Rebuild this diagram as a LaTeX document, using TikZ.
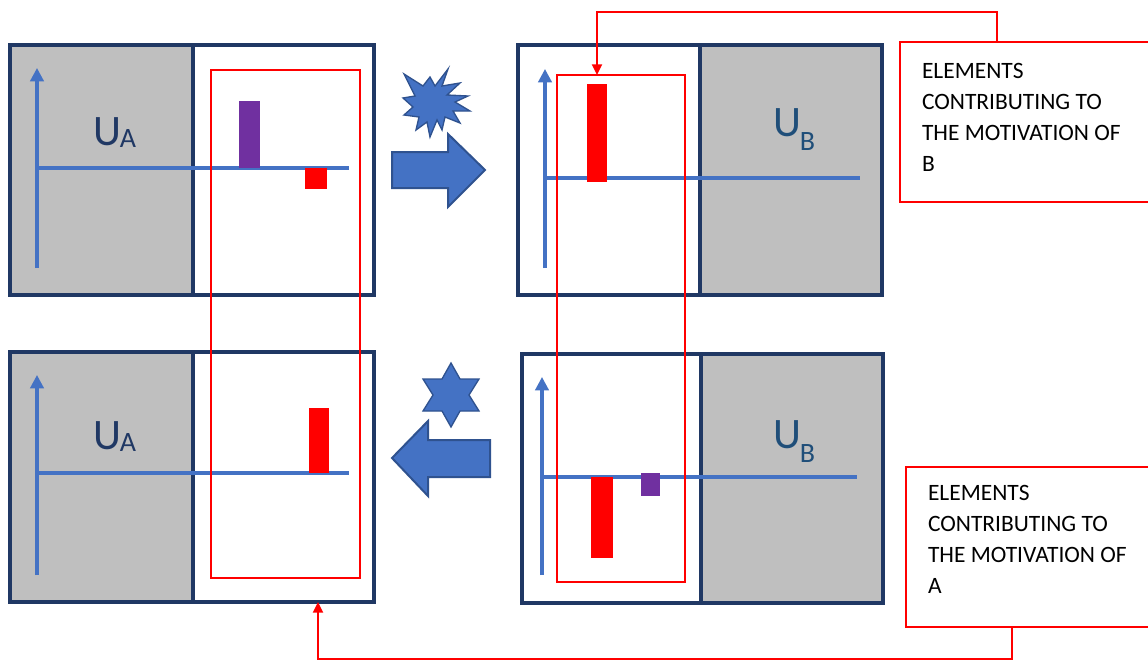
\documentclass[tikz,border=0pt]{standalone}
\usepackage{fontspec}
\setmainfont{Carlito}
\usetikzlibrary{arrows.meta,fit}
\definecolor{navy}{HTML}{203864}
\definecolor{boxgray}{HTML}{BFBFBF}
\definecolor{axisblue}{HTML}{4472C4}
\definecolor{shapeedge}{HTML}{2F528F}
\definecolor{barpurple}{HTML}{7030A0}
\definecolor{ulabA}{HTML}{203864}
\definecolor{ulabB}{HTML}{1F4E79}
\newcommand{\subA}[1]{\kern-1pt\raisebox{-2pt}{\fontsize{21}{21}\selectfont #1}}
\newcommand{\subB}[1]{\kern-1pt\raisebox{-10.5pt}{\fontsize{21}{21}\selectfont #1}}
\begin{document}
\begin{tikzpicture}[x=0.75pt,y=-0.75pt,
  panelgray/.style={draw=navy, line width=3pt, fill=boxgray, inner sep=0pt, outer sep=0pt},
  panelwhite/.style={draw=navy, line width=2.4pt, fill=white, inner sep=0pt, outer sep=0pt},
  axisline/.style={draw=axisblue, line width=2.3pt},
  axistip/.style={-{Triangle[width=10pt,length=10pt]}},
  redframe/.style={draw=red, line width=1.5pt, inner sep=0pt, outer sep=0pt},
  redbar/.style={fill=red, inner sep=0pt, outer sep=0pt},
  purplebar/.style={fill=barpurple, inner sep=0pt, outer sep=0pt},
  notebox/.style={draw=red, line width=1.5pt, fill=white, inner sep=0pt, outer sep=0pt},
  notetext/.style={inner sep=0pt, outer sep=0pt, align=left, text=black, font=\fontsize{17.6}{23.3}\selectfont},
  link/.style={draw=red, line width=1.5pt, -{Triangle[width=7.5pt,length=8pt]}},
  ulabel/.style={inner sep=0pt, anchor=base west, font=\fontsize{32.6}{32.6}\selectfont},
  blockshape/.style={fill=axisblue, draw=shapeedge, line width=1.5pt, line join=miter}
]
\useasboundingbox (0,0) rectangle (1148,660);
\clip (0,0) rectangle (1148,660);

% ---------- top-left panel ----------
\node[panelgray, fit={(10,45) (193,295)}] (gTL) {};
\node[panelwhite, fit={(193,45) (374,295)}] (wTL) {};
\coordinate (oTL) at (37,168);
\coordinate (yTL) at (37,68);
\coordinate (bTL) at (37,268);
\coordinate (xTL) at (349,168);
\draw[axisline, axistip] (bTL) -- (yTL);
\draw[axisline] (oTL) -- (xTL);
\node[purplebar, fit={(239,101) (260,168)}] (pTL) {};
\node[redbar, fit={(305,168) (327,189)}] (rTL) {};
\node[ulabel, text=ulabA] (uTL) at (93,145) {U\subA{A}};

% ---------- top-right panel ----------
\node[panelgray, fit={(700,45) (882,295)}] (gTR) {};
\node[panelwhite, fit={(518,45) (700,295)}] (wTR) {};
\draw[navy, line width=3pt] (gTR.north west) -- (gTR.south west);
\coordinate (oTR) at (545,178);
\coordinate (yTR) at (545,69);
\coordinate (bTR) at (545,268);
\coordinate (xTR) at (860,178);
\draw[axisline, axistip] (bTR) -- (yTR);
\draw[axisline] (oTR) -- (xTR);
\node[redbar, fit={(587,84) (607,182)}] (rTR) {};
\node[ulabel, text=ulabB] (uTR) at (773,136) {U\subB{B}};

% ---------- bottom-left panel ----------
\node[panelgray, fit={(10,352) (193,602)}] (gBL) {};
\node[panelwhite, fit={(193,352) (374,602)}] (wBL) {};
\coordinate (oBL) at (37,473);
\coordinate (yBL) at (37,375);
\coordinate (bBL) at (37,575);
\coordinate (xBL) at (349,473);
\draw[axisline, axistip] (bBL) -- (yBL);
\draw[axisline] (oBL) -- (xBL);
\node[redbar, fit={(309,408) (329,473)}] (rBL) {};
\node[ulabel, text=ulabA] (uBL) at (93,449) {U\subA{A}};

% ---------- bottom-right panel ----------
\node[panelgray, fit={(701,354) (883,603)}] (gBR) {};
\node[panelwhite, fit={(522,354) (701,603)}] (wBR) {};
\draw[navy, line width=3pt] (gBR.north west) -- (gBR.south west);
\coordinate (oBR) at (542,477);
\coordinate (yBR) at (542,377);
\coordinate (bBR) at (542,575);
\coordinate (xBR) at (857,477);
\draw[axisline, axistip] (bBR) -- (yBR);
\draw[axisline] (oBR) -- (xBR);
\node[redbar, fit={(591,477) (613,558)}] (rBR) {};
\node[purplebar, fit={(641,473) (660,496)}] (pBR) {};
\node[ulabel, text=ulabB] (uBR) at (773,448) {U\subB{B}};

% ---------- red frames ----------
\node[redframe, fit={(211,70) (360,578)}] (frameA) {};
\node[redframe, fit={(557,75) (685,582)}] (frameB) {};

% ---------- block arrows and stars ----------
\draw[blockshape] (392,152) -- (448,152) -- (448,134) -- (485,170) -- (448,207) -- (448,188) -- (392,188) -- cycle;
\draw[blockshape] (392,458) -- (428,421) -- (428,440) -- (490,440) -- (490,477) -- (428,477) -- (428,496) -- cycle;
\draw[blockshape, line width=1pt] (448,69) -- (442,86) -- (460,83) -- (447,95) -- (468,96) -- (455,102) -- (470,111) -- (453,111) -- (460,123) -- (445,117) -- (442,130) -- (437,120) -- (430,137) -- (427,122) -- (416,130) -- (419,117) -- (404,115) -- (413,107) -- (403,98) -- (415,96) -- (404,74) -- (423,86) -- (430,77) -- (435,86) -- cycle;
\draw[blockshape, line width=1pt] (451,363) -- (460,379) -- (479,379) -- (469,395) -- (479,411) -- (460,411) -- (451,427) -- (442,411) -- (423,411) -- (433,395) -- (423,379) -- (442,379) -- cycle;

% ---------- notes ----------
\node[notebox, fit={(900,42) (1160,202)}] (noteB) {};
\node[notetext, anchor=north west] (textB) at (922,63) {ELEMENTS\\CONTRIBUTING TO\\THE MOTIVATION OF\\B};
\node[notebox, fit={(906,467) (1160,627)}] (noteA) {};
\node[notetext, anchor=north west] (textA) at (928,485) {ELEMENTS\\CONTRIBUTING TO\\THE MOTIVATION OF\\A};

% ---------- connectors ----------
\coordinate (jB1) at (997,12);
\coordinate (jB2) at (597,12);
\draw[link] (noteB.north -| jB1) -- (jB1) -- (jB2) -- (jB2 |- frameB.north);
\coordinate (jA1) at (1012,659);
\coordinate (jA2) at (318,659);
\draw[link] (noteA.south -| jA1) -- (jA1) -- (jA2) -- (jA2 |- wBL.south);
\end{tikzpicture}
\end{document}
